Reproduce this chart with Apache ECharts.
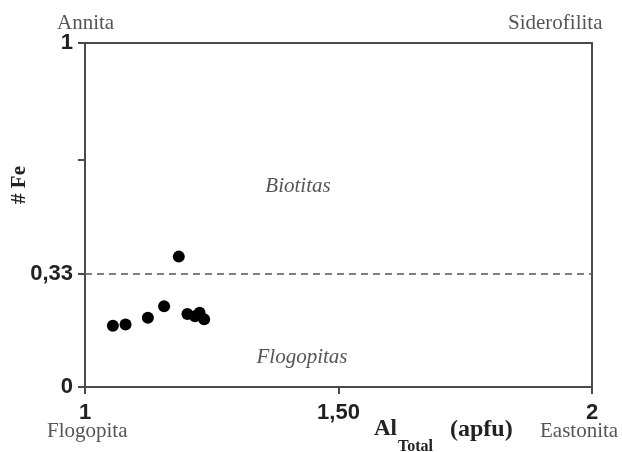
<!DOCTYPE html>
<html><head><meta charset="utf-8">
<script src="https://cdn.jsdelivr.net/npm/echarts@6/dist/echarts.min.js"></script>
<style>html,body{margin:0;padding:0;background:#fff}#c{width:622px;height:452px}</style>
</head><body><div id="c"></div>
<script>
const alTotal = [1.055, 1.080, 1.124, 1.156, 1.185, 1.202, 1.217, 1.226, 1.235];
const feNum   = [0.178, 0.182, 0.201, 0.235, 0.379, 0.212, 0.206, 0.216, 0.197];
const xTicks = [1, 1.5, 2];
const xTickLabels = ['1', '1,50', '2'];
const yTicks = [0, 0.33, 0.66, 1];
const yLabelValues = [0, 0.33, 1];
const yTickLabels = ['0', '0,33', '1'];
const divider = 0.33;

const axisColor = '#4a4a4a';
const serif = '"Liberation Serif", "DejaVu Serif", serif';
const sans = '"Liberation Sans", Arial, sans-serif';

const chart = echarts.init(document.getElementById('c'));
const pts = alTotal.map((x, i) => [x, feNum[i]]);
const fmt = (vals, labs) => v => { const i = vals.findIndex(t => Math.abs(t - v) < 1e-6); return i >= 0 ? labs[i] : ''; };

chart.setOption({
  animation: false,
  grid: { left: 85, right: 30, top: 43, bottom: 65, show: true, borderColor: axisColor, borderWidth: 2 },
  xAxis: {
    type: 'value', min: 1, max: 2,
    axisLine: { show: true, lineStyle: { color: axisColor, width: 2 } },
    splitLine: { show: false },
    axisTick: { show: true, customValues: xTicks, length: 7, lineStyle: { color: axisColor, width: 2 } },
    axisLabel: { customValues: xTicks, formatter: fmt(xTicks, xTickLabels), margin: 15, color: '#222', fontFamily: sans, fontWeight: 'bold', fontSize: 22 }
  },
  yAxis: {
    type: 'value', min: 0, max: 1,
    axisLine: { show: true, lineStyle: { color: axisColor, width: 2 } },
    splitLine: { show: false },
    axisTick: { show: true, customValues: yTicks, length: 7, lineStyle: { color: axisColor, width: 2 } },
    axisLabel: { customValues: yLabelValues, formatter: fmt(yLabelValues, yTickLabels), margin: 12, color: '#222', fontFamily: sans, fontWeight: 'bold', fontSize: 22 }
  },
  series: [{
    type: 'scatter', data: pts, symbolSize: 12,
    itemStyle: { color: '#000', opacity: 1 },
    markLine: {
      silent: true, symbol: 'none', label: { show: false },
      lineStyle: { color: '#555', type: [7, 5], width: 1.5 },
      data: [{ yAxis: divider }]
    }
  }],
  graphic: [
    { type: 'text', left: 57, top: 13, style: { text: 'Annita', font: '21px ' + serif, fill: '#555' } },
    { type: 'text', left: 508, top: 13, style: { text: 'Siderofilita', font: '21px ' + serif, fill: '#555' } },
    { type: 'text', left: 47, top: 421, style: { text: 'Flogopita', font: '21px ' + serif, fill: '#555' } },
    { type: 'text', left: 540, top: 421, style: { text: 'Eastonita', font: '21px ' + serif, fill: '#555' } },
    { type: 'text', x: 298, y: 186, style: { text: 'Biotitas', font: 'italic 21px ' + serif, fill: '#555', align: 'center', verticalAlign: 'middle' } },
    { type: 'text', x: 302, y: 357, style: { text: 'Flogopitas', font: 'italic 21px ' + serif, fill: '#555', align: 'center', verticalAlign: 'middle' } },
    { type: 'text', x: 20, y: 185, rotation: Math.PI / 2, style: { text: '# Fe', font: 'bold 21px ' + serif, fill: '#222', align: 'center', verticalAlign: 'middle' } },
    { type: 'text', left: 374, top: 418, style: { text: 'Al', font: 'bold 23px ' + serif, fill: '#222' } },
    { type: 'text', left: 398, top: 439, style: { text: 'Total', font: 'bold 16px ' + serif, fill: '#222' } },
    { type: 'text', left: 450, top: 418, style: { text: '(apfu)', font: 'bold 24px ' + serif, fill: '#222' } }
  ]
});
</script></body></html>
